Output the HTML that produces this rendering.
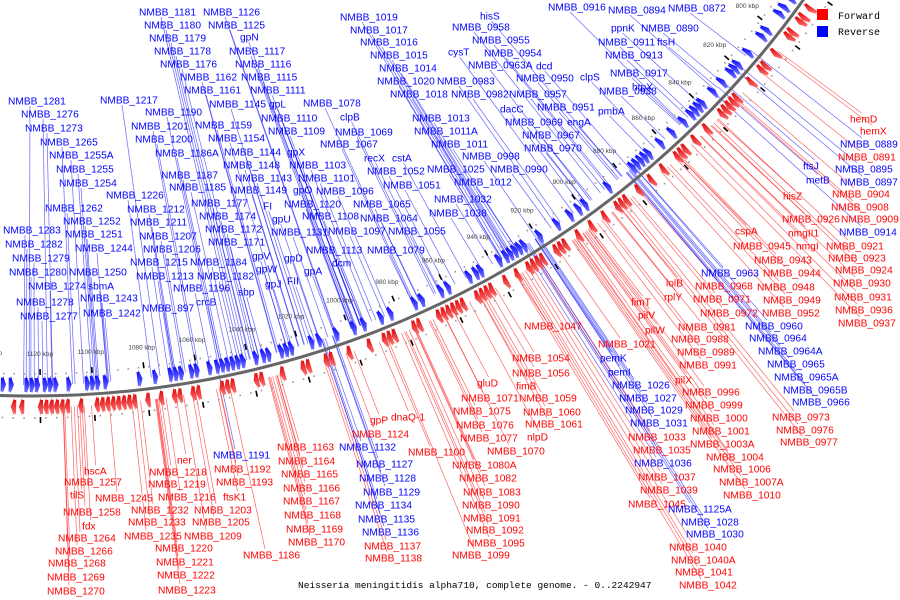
<!DOCTYPE html>
<html><head><meta charset="utf-8">
<style>
html,body{margin:0;padding:0;background:#fff;}
svg{display:block;font-family:"Liberation Sans","DejaVu Sans",sans-serif;}
</style></head>
<body>
<svg id="chart" width="900" height="600" viewBox="0 0 900 600" xmlns="http://www.w3.org/2000/svg">
<g id="lines"></g>
<g id="ring"></g>
<g id="labels"></g>
<g>
<rect x="817" y="9" width="11" height="11" fill="#f00"/>
<text x="838" y="19" font-size="10" font-family="Liberation Mono, monospace">Forward</text>
<rect x="817" y="26" width="11" height="11" fill="#00f"/>
<text x="838" y="35" font-size="10" font-family="Liberation Mono, monospace">Reverse</text>
</g>
<text x="298" y="588" font-size="9.5" font-family="Liberation Mono, monospace">Neisseria meningitidis alpha710, complete genome. - 0..2242947</text>
</svg>
<script>
// genes (kbp) per strand
const reverseStarts=[1135,1132,1126,1124,1122,1119,1117,1115,1110,1103,1101,1099,1096,1083,1077,1071,1069,1067,1063,1061,1056,1053,1051,1049,1047,1045,1043,1038,1035,1033,1028,1026,1024,1016,1013,1006,999,995,988,984,974,971,963,960,951,948,946,938,935,933,931,929,927,920,912,906,902,899,888,876,874,872,870,868,862,856,850,846,844,842,840,834,829,824,822,820,814,806,803,795,792,788];
const reverseEnds=[1133,1130,1124,1122,1120,1117,1115,1113,1108,1101,1099,1097,1094,1081,1075,1069,1067,1065,1061,1059,1054,1051,1049,1047,1045,1043,1041,1036,1033,1031,1026,1024,1022,1014,1011,1004,997,993,986,982,972,969,961,958,949,946,944,936,933,931,929,927,925,918,910,904,900,897,886,874,872,870,868,866,860,854,848,844,842,840,838,832,827,822,820,818,812,804,801,793,790,786];
const forwardStarts=[1131,1128,1121,1119,1117,1115,1113,1111,1106,1100,1098,1096,1094,1092,1090,1088,1086,1081,1076,1071,1069,1064,1062,1053,1051,1049,1040,1038,1030,1022,1020,1013,1011,1004,996,990,988,986,978,976,968,966,964,962,960,958,952,950,948,946,940,935,930,928,926,924,918,916,914,908,902,896,890,888,886,880,874,868,861,859,857,852,846,838,836,834,832,830,822,816,814,808,800,798,793,791,787];
const forwardEnds=[1129,1126,1119,1117,1115,1113,1111,1109,1104,1098,1096,1094,1092,1090,1088,1086,1084,1079,1074,1069,1067,1062,1060,1051,1049,1047,1038,1036,1028,1020,1018,1011,1009,1002,994,988,986,984,976,974,966,964,962,960,958,956,950,948,946,944,938,933,928,926,924,922,916,914,912,906,900,894,888,886,884,878,872,866,859,857,855,850,844,836,834,832,830,828,820,814,812,806,798,796,791,789,785];
const tickKbp=[780,800,820,840,860,880,900,920,940,960,980,1000,1020,1040,1060,1080,1100,1120,1140];

// label layout: text, x, y-center, strand (b = reverse/blue, r = forward/red)
const labelLayout=[
["NMBB_1181",139,12,"b"],["NMBB_1180",144,25,"b"],["NMBB_1179",149,38,"b"],["NMBB_1178",154,51,"b"],["NMBB_1176",160,64,"b"],["NMBB_1162",180,77,"b"],["NMBB_1161",184,90,"b"],["NMBB_1145",209,104,"b"],["gpL",269,104,"b"],["NMBB_1159",195,125,"b"],["NMBB_1154",208,138,"b"],["NMBB_1144",224,152,"b"],["gpX",287,152,"b"],["NMBB_1148",223,165,"b"],["NMBB_1143",235,178,"b"],["NMBB_1149",230,190,"b"],["gpO",293,190,"b"],["NMBB_1177",191,203,"b"],["FI",263,206,"b"],["NMBB_1174",199,216,"b"],["gpU",272,219,"b"],["NMBB_1172",205,229,"b"],["NMBB_1171",208,242,"b"],["gpV",252,256,"b"],["gpD",284,258,"b"],["gpW",256,269,"b"],["FII",287,281,"b"],["gpJ",265,284,"b"],["NMBB_1184",190,262,"b"],["NMBB_1182",197,276,"b"],["NMBB_1196",173,288,"b"],["sbp",238,292,"b"],["crcB",196,302,"b"],
["NMBB_1126",203,12,"b"],["NMBB_1125",208,25,"b"],["gpN",240,37,"b"],["NMBB_1117",229,51,"b"],["NMBB_1116",235,64,"b"],["NMBB_1115",241,77,"b"],["NMBB_1111",250,90,"b"],["NMBB_1110",261,118,"b"],["NMBB_1109",268,131,"b"],["NMBB_1103",289,165,"b"],["NMBB_1101",298,178,"b"],["NMBB_1096",316,191,"b"],["NMBB_1120",284,204,"b"],["NMBB_1108",302,216,"b"],["NMBB_1131",271,232,"b"],["NMBB_1097",328,231,"b"],["NMBB_1113",306,250,"b"],["NMBB_1079",367,250,"b"],["gpA",304,271,"b"],["dcm",332,263,"b"],["NMBB_1078",303,103,"b"],["clpB",340,117,"b"],["NMBB_1069",335,132,"b"],["NMBB_1067",320,144,"b"],["recX",364,158,"b"],["cstA",392,158,"b"],["NMBB_1052",367,171,"b"],["NMBB_1051",383,185,"b"],["NMBB_1065",353,204,"b"],["NMBB_1064",360,218,"b"],["NMBB_1055",388,231,"b"],
["NMBB_1281",8,101,"b"],["NMBB_1276",21,114,"b"],["NMBB_1273",25,128,"b"],["NMBB_1265",40,142,"b"],["NMBB_1255A",49,155,"b"],["NMBB_1255",56,169,"b"],["NMBB_1254",59,183,"b"],["NMBB_1262",45,208,"b"],["NMBB_1252",63,221,"b"],["NMBB_1251",65,234,"b"],["NMBB_1244",75,248,"b"],["NMBB_1283",3,230,"b"],["NMBB_1282",5,244,"b"],["NMBB_1279",12,258,"b"],["NMBB_1280",9,272,"b"],["NMBB_1250",69,272,"b"],["NMBB_1274",28,286,"b"],["sbmA",88,286,"b"],["NMBB_1278",16,302,"b"],["NMBB_1243",80,298,"b"],["NMBB_1277",20,316,"b"],["NMBB_1242",83,313,"b"],["NMBB_1217",100,100,"b"],["NMBB_1190",145,112,"b"],["NMBB_1201",131,126,"b"],["NMBB_1200",135,139,"b"],["NMBB_1186A",155,153,"b"],["NMBB_1187",161,175,"b"],["NMBB_1185",169,187,"b"],["NMBB_1226",106,195,"b"],["NMBB_1212",127,209,"b"],["NMBB_1211",130,222,"b"],["NMBB_1207",139,236,"b"],["NMBB_1206",143,249,"b"],["NMBB_1215",130,262,"b"],["NMBB_1213",136,276,"b"],["NMBB_897",142,308,"b"],
["NMBB_1019",340,17,"b"],["NMBB_1017",350,30,"b"],["NMBB_1016",360,42,"b"],["NMBB_1015",370,55,"b"],["NMBB_1014",379,68,"b"],["NMBB_1020",377,81,"b"],["NMBB_1018",390,94,"b"],["NMBB_1013",412,118,"b"],["NMBB_1011A",414,131,"b"],["NMBB_1011",431,144,"b"],["NMBB_0998",462,156,"b"],["NMBB_1025",427,169,"b"],["NMBB_0990",490,169,"b"],["NMBB_1012",454,182,"b"],["NMBB_1032",434,199,"b"],["NMBB_1038",429,213,"b"],["hisS",480,16,"b"],["NMBB_0958",452,27,"b"],["NMBB_0955",472,40,"b"],["cysT",448,52,"b"],["NMBB_0954",484,53,"b"],["NMBB_0963A",468,65,"b"],["dcd",536,66,"b"],["NMBB_0983",437,81,"b"],["NMBB_0950",516,78,"b"],["clpS",580,77,"b"],["NMBB_0982",451,94,"b"],["NMBB_0957",509,94,"b"],["dacC",500,109,"b"],["NMBB_0951",537,107,"b"],["pmbA",598,111,"b"],["NMBB_0969",505,122,"b"],["engA",567,122,"b"],["NMBB_0967",522,135,"b"],["NMBB_0970",524,148,"b"],["NMBB_0916",548,7,"b"],
["NMBB_0894",608,10,"b"],["NMBB_0872",668,8,"b"],["ppnK",611,28,"b"],["NMBB_0890",641,28,"b"],["NMBB_0911",598,42,"b"],["ftsH",657,42,"b"],["NMBB_0913",605,55,"b"],["NMBB_0917",610,73,"b"],["htpX",632,87,"b"],["NMBB_0938",599,91,"b"],
["hemD",850,119,"r"],["hemX",860,131,"r"],["NMBB_0889",840,144,"b"],["NMBB_0891",838,157,"r"],["ftsJ",803,166,"b"],["NMBB_0895",835,169,"b"],["metB",806,180,"b"],["NMBB_0897",840,182,"b"],["NMBB_0904",832,194,"r"],["hisZ",783,196,"r"],["NMBB_0908",831,207,"r"],["NMBB_0926",782,219,"r"],["NMBB_0909",841,219,"r"],["NMBB_0914",839,232,"b"],["cspA",735,231,"r"],["nmgII1",788,233,"r"],["NMBB_0945",733,246,"r"],["nmgI",796,246,"r"],["NMBB_0921",826,246,"r"],["NMBB_0943",754,260,"r"],["NMBB_0923",828,258,"r"],["NMBB_0963",701,273,"b"],["NMBB_0944",763,273,"r"],["NMBB_0924",835,270,"r"],["lolB",666,283,"r"],["NMBB_0968",695,286,"r"],["NMBB_0948",757,287,"r"],["NMBB_0930",833,283,"r"],["rplY",664,297,"r"],["NMBB_0971",693,299,"r"],["NMBB_0949",763,300,"r"],["NMBB_0931",834,297,"r"],["fimT",631,302,"r"],["NMBB_0972",700,313,"r"],["NMBB_0952",762,313,"r"],["NMBB_0936",835,310,"r"],["pilV",638,315,"r"],["NMBB_0981",678,327,"r"],["NMBB_0960",745,326,"b"],["NMBB_0937",838,323,"r"],["pilW",645,330,"r"],["NMBB_0988",671,339,"r"],["NMBB_0964",749,338,"b"],["NMBB_1021",598,344,"r"],["NMBB_0989",677,352,"r"],["NMBB_0964A",758,351,"b"],["NMBB_1047",524,326,"r"],["pemK",600,358,"b"],["NMBB_0991",679,365,"r"],["NMBB_0965",767,364,"b"],["NMBB_1054",512,358,"r"],["pemI",608,372,"b"],["NMBB_1056",512,373,"r"],["pilX",675,380,"r"],["NMBB_0965A",774,377,"b"],["NMBB_1026",612,385,"b"],["NMBB_0996",682,392,"r"],["NMBB_0965B",783,390,"b"],["gluD",477,383,"r"],["fimB",516,386,"r"],["NMBB_1027",619,398,"b"],["NMBB_0999",685,405,"r"],["NMBB_0966",792,402,"b"],["NMBB_1071",461,398,"r"],["NMBB_1059",519,398,"r"],["NMBB_1029",625,410,"b"],["NMBB_1000",690,418,"r"],["NMBB_0973",772,417,"r"],["NMBB_1075",453,411,"r"],["NMBB_1060",523,412,"r"],["NMBB_1031",630,423,"b"],["NMBB_1001",692,431,"r"],["NMBB_0976",776,430,"r"],["NMBB_1076",456,425,"r"],["NMBB_1061",525,424,"r"],["NMBB_1033",628,437,"r"],["NMBB_1003A",690,444,"r"],["NMBB_0977",780,442,"r"],["NMBB_1077",460,438,"r"],["nlpD",527,437,"r"],["NMBB_1035",633,450,"r"],["NMBB_1004",706,457,"r"],["NMBB_1070",487,451,"r"],["NMBB_1036",634,463,"b"],["NMBB_1006",713,469,"r"],["NMBB_1080A",452,465,"r"],["NMBB_1037",638,477,"r"],["NMBB_1007A",719,482,"r"],["NMBB_1082",459,478,"r"],["NMBB_1039",640,490,"r"],["NMBB_1010",723,495,"r"],["NMBB_1083",463,492,"r"],["NMBB_1045",628,504,"r"],["NMBB_1125A",668,509,"b"],["NMBB_1090",462,505,"r"],["NMBB_1028",681,522,"b"],["NMBB_1091",463,518,"r"],["NMBB_1092",466,530,"r"],["NMBB_1030",686,534,"b"],["NMBB_1095",467,543,"r"],["NMBB_1099",452,555,"r"],["NMBB_1040",669,547,"r"],["NMBB_1040A",671,560,"r"],["NMBB_1041",675,572,"r"],["NMBB_1042",679,585,"r"],
["gpP",370,420,"r"],["dnaQ-1",391,417,"r"],["NMBB_1124",352,434,"r"],["NMBB_1132",339,447,"b"],["NMBB_1100",408,452,"r"],["NMBB_1127",356,464,"b"],["NMBB_1128",359,478,"b"],["NMBB_1129",363,492,"b"],["NMBB_1134",355,505,"b"],["NMBB_1135",358,519,"b"],["NMBB_1136",362,532,"b"],["NMBB_1137",364,546,"r"],["NMBB_1138",365,558,"r"],
["hscA",84,471,"r"],["NMBB_1257",64,482,"r"],["tilS",70,495,"r"],["NMBB_1245",95,498,"r"],["NMBB_1258",63,512,"r"],["fdx",82,526,"r"],["NMBB_1264",58,538,"r"],["NMBB_1266",55,551,"r"],["NMBB_1268",48,563,"r"],["NMBB_1269",47,577,"r"],["NMBB_1270",47,591,"r"],["ner",177,460,"r"],["NMBB_1218",149,472,"r"],["NMBB_1219",148,484,"r"],["NMBB_1216",158,497,"r"],["NMBB_1232",131,510,"r"],["NMBB_1233",128,522,"r"],["NMBB_1235",124,536,"r"],["NMBB_1220",155,548,"r"],["NMBB_1221",156,562,"r"],["NMBB_1222",157,575,"r"],["NMBB_1223",158,590,"r"],["NMBB_1191",213,455,"b"],["NMBB_1192",214,469,"r"],["NMBB_1193",216,482,"r"],["ftsK1",223,497,"r"],["NMBB_1203",194,510,"r"],["NMBB_1205",192,522,"r"],["NMBB_1209",184,536,"r"],["NMBB_1186",243,555,"r"],["NMBB_1163",277,447,"r"],["NMBB_1164",278,461,"r"],["NMBB_1165",281,474,"r"],["NMBB_1166",283,488,"r"],["NMBB_1167",283,501,"r"],["NMBB_1168",284,515,"r"],["NMBB_1169",286,529,"r"],["NMBB_1170",288,542,"r"]
];

const NS="http://www.w3.org/2000/svg";
const CX=32, CY=-553, R=949;
function ang(kbp){return (89.5+(kbp-1120)*0.1606)*Math.PI/180;}
function pt(a,r){return [CX+r*Math.cos(a), CY+r*Math.sin(a)];}
function mk(tag,attrs,parent){const e=document.createElementNS(NS,tag);for(const k in attrs)e.setAttribute(k,attrs[k]);parent.appendChild(e);return e;}
const ring=document.getElementById('ring'), lines=document.getElementById('lines'), labels=document.getElementById('labels');

const defs=mk('defs',{},document.getElementById('chart'));
defs.innerHTML='<linearGradient id="gb" x1="0" y1="0" x2="0" y2="1"><stop offset="0" stop-color="#0000ff"/><stop offset="1" stop-color="#7a7aff"/></linearGradient><linearGradient id="gr" x1="0" y1="0" x2="0" y2="1"><stop offset="0" stop-color="#dd0000"/><stop offset="1" stop-color="#ff7a7a"/></linearGradient>';

// backbone arc
const a0=ang(1140), a1=ang(770);
const p0=pt(a0,R), p1=pt(a1,R);
const arc=mk('path',{d:`M${p0[0]},${p0[1]} A${R},${R} 0 0 0 ${p1[0]},${p1[1]}`,fill:'none',stroke:'#666','stroke-width':3},ring);



// dots and ticks
for(let k=770;k<=1140;k+=4){
  for(const r of [R-22,R+22]){
    const p=pt(ang(k),r);
    const d=mk('rect',{x:p[0]-0.8,y:p[1]-0.8,width:1.6,height:1.6,fill:'#999'},ring);
    
    
  }
}
tickKbp.forEach(k=>{
  const a=ang(k);
  for(const [r1,r2] of [[R-27,R-21],[R+21,R+27]]){
    const q1=pt(a,r1),q2=pt(a,r2);
    const t=mk('line',{x1:q1[0],y1:q1[1],x2:q2[0],y2:q2[1],stroke:'#000','stroke-width':1.6},ring);
    
    
  }
  const lp=pt(a,R-40);
  const tx=mk('text',{x:lp[0],y:lp[1],'font-size':6.5,fill:'#444','text-anchor':'middle'},ring);
  tx.textContent=k+' kbp';
  
  
});

// genes
function gene(s,e,strand){
  const hi=Math.max(s,e), lo=Math.min(s,e);
  const rIn = strand==='b'? R-18 : R+4;
  const rOut= strand==='b'? R-4 : R+18;
  const rMid=(rIn+rOut)/2;
  let aT,aB,aS;
  if(strand==='b'){ aT=ang(lo); aB=ang(Math.min(hi,lo+1.2)); aS=ang(hi); }
  else { aT=ang(hi); aB=ang(Math.max(lo,hi-1.2)); aS=ang(lo); }
  const pts=[pt(aS,rIn),pt(aB,rIn),pt(aB,rIn-2),pt(aT,rMid),pt(aB,rOut+2),pt(aB,rOut),pt(aS,rOut)];
  const g=mk('polygon',{points:pts.map(p=>p[0].toFixed(1)+','+p[1].toFixed(1)).join(' '),fill:strand==='b'?'url(#gb)':'url(#gr)'},ring);
  
  
}
reverseStarts.forEach((s,i)=>gene(s,reverseEnds[i],'b'));
forwardStarts.forEach((s,i)=>gene(s,forwardEnds[i],'r'));

// labels + leader lines
labelLayout.forEach(([txt,x,y,st])=>{
  const col= st==='b'?'#0000ff':'#ff0000';
  const w=txt.length*5.8;
  const ax=x+Math.min(w/2,22), ay=y;
  const dx=ax-CX, dy=ay-CY, r=Math.hypot(dx,dy), a=Math.atan2(dy,dx);
  const rEnd = st==='b'? R-11 : R+11;
  const inside = r<R;
  const sy = inside? ay+5 : ay-6;
  const e=pt(a,rEnd);
  const ln=mk('line',{x1:ax,y1:sy,x2:e[0],y2:e[1],stroke:col,'stroke-width':0.7,'stroke-opacity':0.6},lines);
  
  
  const t=mk('text',{x:x,y:y+3.6,'font-size':10.2,fill:col},labels);
  t.textContent=txt;
  
  
});
</script>
</body></html>
